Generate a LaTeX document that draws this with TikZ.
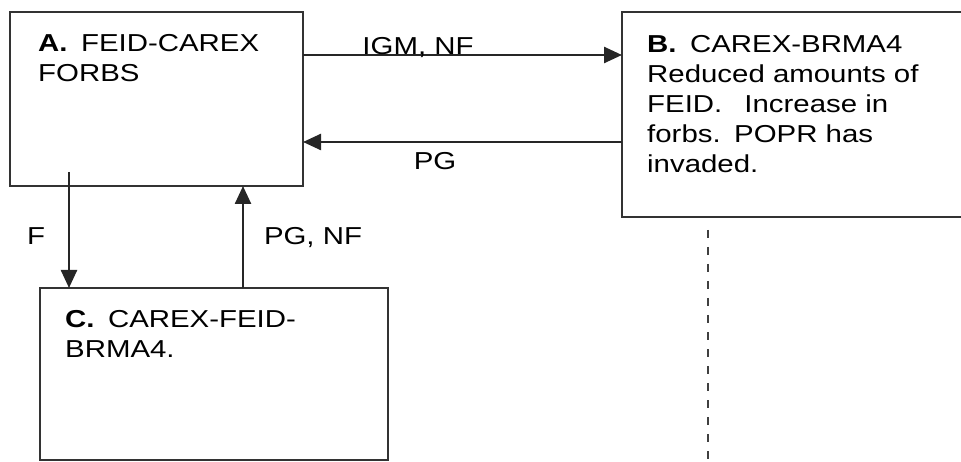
\documentclass[tikz,border=0pt]{standalone}
\usepackage{fontspec}
\setmainfont{Liberation Sans}[FakeStretch=1.2]
\usetikzlibrary{arrows.meta,positioning}

\begin{document}
\begin{tikzpicture}[x=1pt,y=-1pt,
	box/.style={draw=black!80,line width=2.5pt,inner sep=0pt,outer sep=0pt,anchor=north west},
	txt/.style={inner sep=0pt,align=left,font=\fontsize{24.5}{30}\selectfont},
	lbl/.style={inner sep=0pt,anchor=base,font=\fontsize{24.5}{30}\selectfont},
	arr/.style={line width=2.5pt,draw=black!85,-{Triangle[length=18pt,width=16pt]}}]
\useasboundingbox (0,0) rectangle (961,462);
\clip (0,0) rectangle (961,462);
% the three states
\node[box,minimum width=293pt,minimum height=174pt] (A) at (10,12) {};
\node[box,minimum width=360pt,minimum height=205pt] (B) at (622,12) {};
\node[box,minimum width=348pt,minimum height=172pt] (C) at (40,288) {};
\node[txt,below right=22pt and 28pt of A.north west] (Atext) {\textbf{A.}\hspace{0.55em}FEID-CAREX\\FORBS};
\node[txt,below right=23pt and 25pt of B.north west] (Btext) {\textbf{B.}\hspace{0.55em}CAREX-BRMA4\\Reduced amounts of\\FEID.\hspace{0.9em}Increase in\\forbs.\hspace{0.55em}POPR has\\invaded.};
\node[txt,below right=22pt and 25pt of C.north west] (Ctext) {\textbf{C.}\hspace{0.55em}CAREX-FEID-\\BRMA4.};
% transitions
\coordinate (igm) at (0,55);
\coordinate (pg) at (0,142);
\coordinate (fstart) at (69,172);
\coordinate (up) at (243,0);
\coordinate (dtop) at (708,230);
\draw[arr] (A.east |- igm) -- (B.west |- igm);
\draw[arr] (B.west |- pg) -- (A.east |- pg);
\draw[arr] (fstart) -- (fstart |- C.north);
\draw[arr] (up |- C.north) -- (up |- A.south);
\draw[line width=2.5pt,draw=black!75,dash pattern=on 8pt off 9pt] (dtop) -- (dtop |- C.south);
\node[lbl] (igmlbl) at (418,55) {IGM, NF};
\node[lbl] (pglbl) at (435,170) {PG};
\node[lbl] (flbl) at (36,245) {F};
\node[lbl] (pgnflbl) at (313,245) {PG, NF};
\end{tikzpicture}
\end{document}
